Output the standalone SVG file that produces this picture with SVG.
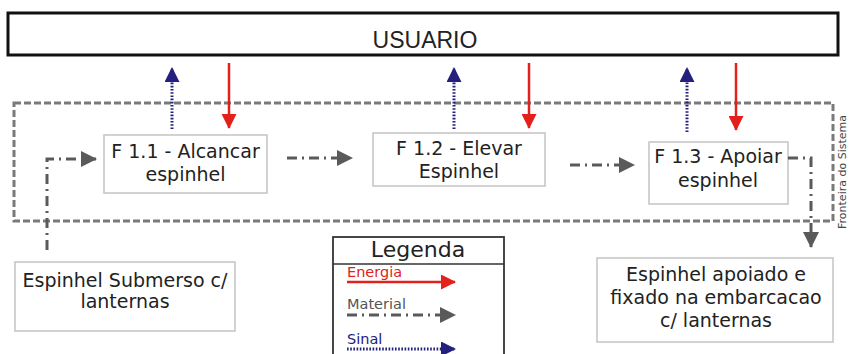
<svg xmlns="http://www.w3.org/2000/svg" width="849" height="354" viewBox="0 0 849 354">
<style>
.t{font-family:"DejaVu Sans",Verdana,sans-serif;fill:#222;text-anchor:middle;font-size:19px}
.lg{font-family:"DejaVu Sans",Verdana,sans-serif;font-size:14.5px}
.box{fill:#fff;stroke:#c4c4c4;stroke-width:1.5}
.en{fill:none;stroke:#e2211c;stroke-width:2.5}
.sg{fill:none;stroke:#25207e;stroke-width:3;stroke-dasharray:1.6 1.6}
.mt{fill:none;stroke:#5a5a5a;stroke-width:3;stroke-dasharray:10 5 2 5}
</style>
<defs>
<marker id="hr" markerWidth="15" markerHeight="15" refX="14" refY="7.5" orient="auto" markerUnits="userSpaceOnUse"><path d="M0,0 L15,7.5 L0,15 Z" fill="#e2211c"/></marker>
<marker id="hb" markerWidth="15" markerHeight="15" refX="14" refY="7.5" orient="auto" markerUnits="userSpaceOnUse"><path d="M0,0 L15,7.5 L0,15 Z" fill="#25207e"/></marker>
<marker id="hg" markerWidth="16" markerHeight="16" refX="15" refY="8" orient="auto" markerUnits="userSpaceOnUse"><path d="M0,0 L16,8 L0,16 Z" fill="#5a5a5a"/></marker>
</defs>
<rect width="849" height="354" fill="#fff"/>
<g id="boundary">
<rect x="14" y="103" width="819" height="118" fill="none" stroke="#7a7a7a" stroke-width="3" stroke-dasharray="7 3"/>
<text transform="translate(846,172) rotate(-90)" style="font-family:'DejaVu Sans',sans-serif;font-size:11px;fill:#444;text-anchor:middle">Fronteira do Sistema</text>
</g>
<g id="usuario">
<rect x="8" y="13" width="830" height="42" fill="#fff" stroke="#111" stroke-width="3"/>
<text x="425" y="48" style="font-family:'Liberation Sans',Arial,sans-serif;font-size:23px;fill:#222;text-anchor:middle">USUARIO</text>
</g>
<g id="f11">
<rect class="box" x="104" y="135" width="163" height="58"/>
<text class="t" x="185.5" y="158">F 1.1 - Alcancar</text>
<text class="t" x="185.5" y="181">espinhel</text>
</g>
<g id="f12">
<rect class="box" x="373" y="133" width="172" height="53"/>
<text class="t" x="459" y="155">F 1.2 - Elevar</text>
<text class="t" x="459" y="178">Espinhel</text>
</g>
<g id="f13">
<rect class="box" x="649" y="142" width="139" height="62"/>
<text class="t" x="718" y="163">F 1.3 - Apoiar</text>
<text class="t" x="718" y="187">espinhel</text>
</g>
<g id="in">
<rect class="box" x="15" y="262" width="220" height="69"/>
<text class="t" x="125" y="287">Espinhel Submerso c/</text>
<text class="t" x="125" y="308">lanternas</text>
</g>
<g id="out">
<rect class="box" x="597" y="258" width="236" height="84"/>
<text class="t" x="716" y="281">Espinhel apoiado e</text>
<text class="t" x="716" y="304">fixado na embarcacao</text>
<text class="t" x="716" y="327">c/ lanternas</text>
</g>
<g id="connectors">
<path class="sg" d="M172,129 V68" marker-end="url(#hb)"/>
<path class="en" d="M229,63 V128" marker-end="url(#hr)"/>
<path class="sg" d="M454,129 V68" marker-end="url(#hb)"/>
<path class="en" d="M529,63 V128" marker-end="url(#hr)"/>
<path class="sg" d="M687,132 V68" marker-end="url(#hb)"/>
<path class="en" d="M736,63 V130" marker-end="url(#hr)"/>
<path class="mt" d="M47,250 V159 H96" marker-end="url(#hg)"/>
<path class="mt" d="M287,158 H352" marker-end="url(#hg)"/>
<path class="mt" d="M570,165 H634" marker-end="url(#hg)"/>
<path class="mt" d="M788,158 H811 V247" marker-end="url(#hg)"/>
</g>
<g id="legenda">
<rect x="333" y="237" width="171" height="130" fill="#fff" stroke="#333" stroke-width="1.8"/>
<line x1="333" y1="264" x2="504" y2="264" stroke="#333" stroke-width="1.5"/>
<text x="418" y="257" style="font-family:'DejaVu Sans',sans-serif;font-size:22px;fill:#222;text-anchor:middle">Legenda</text>
<text class="lg" x="347" y="277" fill="#e2211c">Energia</text>
<path class="en" d="M347,282 H455" marker-end="url(#hr)"/>
<text class="lg" x="347" y="309" fill="#555">Material</text>
<path class="mt" d="M347,315 H455" marker-end="url(#hg)"/>
<text class="lg" x="347" y="344" fill="#25207e">Sinal</text>
<path class="sg" d="M347,349 H455" marker-end="url(#hb)"/>
</g>
</svg>
